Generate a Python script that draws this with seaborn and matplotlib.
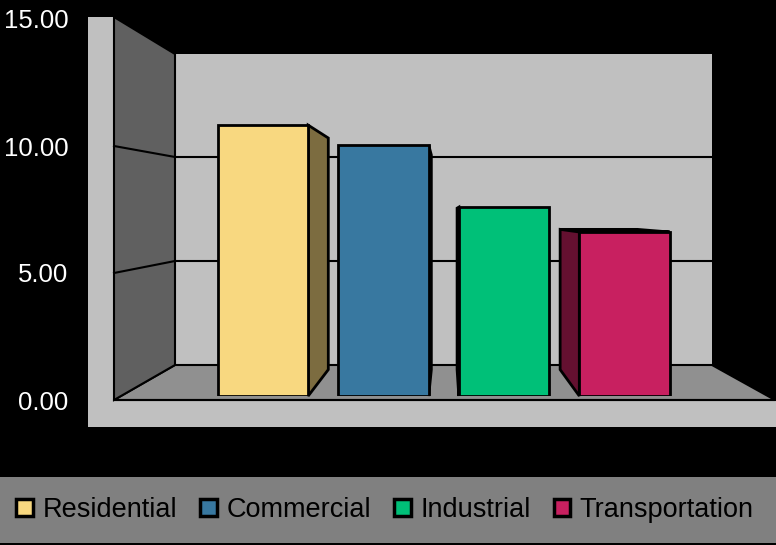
import matplotlib
matplotlib.use('Agg')
import matplotlib.pyplot as plt
from matplotlib.patches import Polygon, Rectangle
import matplotlib.colors as mcolors
import seaborn as sns

plt.rcParams['font.family'] = ['Liberation Sans', 'DejaVu Sans']

# data
categories = ['Residential', 'Commercial', 'Industrial', 'Transportation']
values = [10.9, 10.1, 7.6, 6.6]
colors = ['#F8D880', '#3878A0', '#00C078', '#C82060']
ticks = [0, 5, 10, 15]
tick_labels = ['%.2f' % t for t in ticks]

W, H = 776, 545
LIGHT = '#C0C0C0'
DARK = '#606060'
FLOOR = '#909090'
VP = (447, 214)      # vanishing point of the fake 3D
DEPTH = 0.855        # back face / front face ratio of the bars


def frac(x, y, w, h):
    # pixel box (top-left origin) -> figure fraction
    return [x / W, (H - y - h) / H, w / W, h / H]


def darker(c, f):
    r, g, b = mcolors.to_rgb(c)
    return (r * f, g * f, b * f)


fig = plt.figure(figsize=(W / 100, H / 100), dpi=100, facecolor='black')

# background: walls, floor, legend band (pixel coords, top-left origin)
ax_bg = fig.add_axes([0, 0, 1, 1])
ax_bg.set_xlim(0, W)
ax_bg.set_ylim(H, 0)
ax_bg.axis('off')
ax_bg.add_patch(Rectangle((88, 17), 27, 400, color=LIGHT, lw=0))
ax_bg.add_patch(Rectangle((88, 400), 688, 27, color=LIGHT, lw=0))
ax_bg.add_patch(Rectangle((175, 54), 537, 311, color=LIGHT, lw=0))
ax_bg.add_patch(Polygon([(114, 400), (175, 365), (712, 365), (775, 400)],
                        closed=True, facecolor=FLOOR, edgecolor='black', lw=1.5))
ax_bg.add_patch(Polygon([(114, 17), (175, 54), (175, 365), (114, 400)],
                        closed=True, facecolor=DARK, edgecolor='black', lw=1.5))
for yb, yf in [(157, 146), (261, 273)]:
    ax_bg.plot([114, 175, 712], [yf, yb, yb], color='black', lw=1.5)
ax_bg.plot([114, 776], [400, 400], color='black', lw=1.5)
ax_bg.add_patch(Rectangle((0, 477), W, 66, color='#808080', lw=0))

# value labels on the front plane
ax_t = fig.add_axes(frac(88, 19, 1, 381))
ax_t.set_ylim(0, 15)
ax_t.set_yticks(ticks)
ax_t.set_yticklabels(tick_labels, color='white', fontsize=18.5)
ax_t.tick_params(axis='y', length=0, pad=14)
ax_t.set_xticks([])
ax_t.set_facecolor('none')
for s in ax_t.spines.values():
    s.set_visible(False)

# bars
ax = fig.add_axes(frac(88, 396 - 372.75, 688, 372.75))
sns.barplot(x=categories, y=values, hue=categories, palette=colors, saturation=1,
            width=0.75, edgecolor='black', linewidth=2, legend=False, ax=ax)
ax.set_xlim(-1.452, 4.257)
ax.set_ylim(0, 15)
ax.axis('off')
ax.patch.set_alpha(0)

# side / top faces for the 3D look, taken from the drawn bars
to_bg = ax_bg.transData.inverted()
for bar in ax.patches:
    bb = bar.get_bbox()
    (x0, yb), (x1, yt) = to_bg.transform(ax.transData.transform([[bb.x0, bb.y0], [bb.x1, bb.y1]]))
    back = lambda x, y: (VP[0] + (x - VP[0]) * DEPTH, VP[1] + (y - VP[1]) * DEPTH)
    fc = bar.get_facecolor()
    if yt > VP[1]:
        ax_bg.add_patch(Polygon([(x0, yt), (x1, yt), back(x1, yt), back(x0, yt)],
                                closed=True, facecolor=darker(fc, 0.75), edgecolor='black', lw=2, zorder=3))
    if x1 < VP[0]:
        ax_bg.add_patch(Polygon([(x1, yt), back(x1, yt), back(x1, yb), (x1, yb)],
                                closed=True, facecolor=darker(fc, 0.5), edgecolor='black', lw=2, zorder=3))
    elif x0 > VP[0]:
        ax_bg.add_patch(Polygon([(x0, yt), back(x0, yt), back(x0, yb), (x0, yb)],
                                closed=True, facecolor=darker(fc, 0.5), edgecolor='black', lw=2, zorder=3))

# legend
handles = [Rectangle((0, 0), 1, 1, facecolor=c, edgecolor='black', lw=2.5) for c in colors]
fig.legend(handles, categories, loc='center left', bbox_to_anchor=(16 / W, (H - 510) / H),
           ncol=4, frameon=False, fontsize=19.5, handlelength=0.62, handleheight=0.62,
           handletextpad=0.35, columnspacing=0.85, borderpad=0, borderaxespad=0)

fig.savefig('out.png', dpi=100, facecolor='black')
